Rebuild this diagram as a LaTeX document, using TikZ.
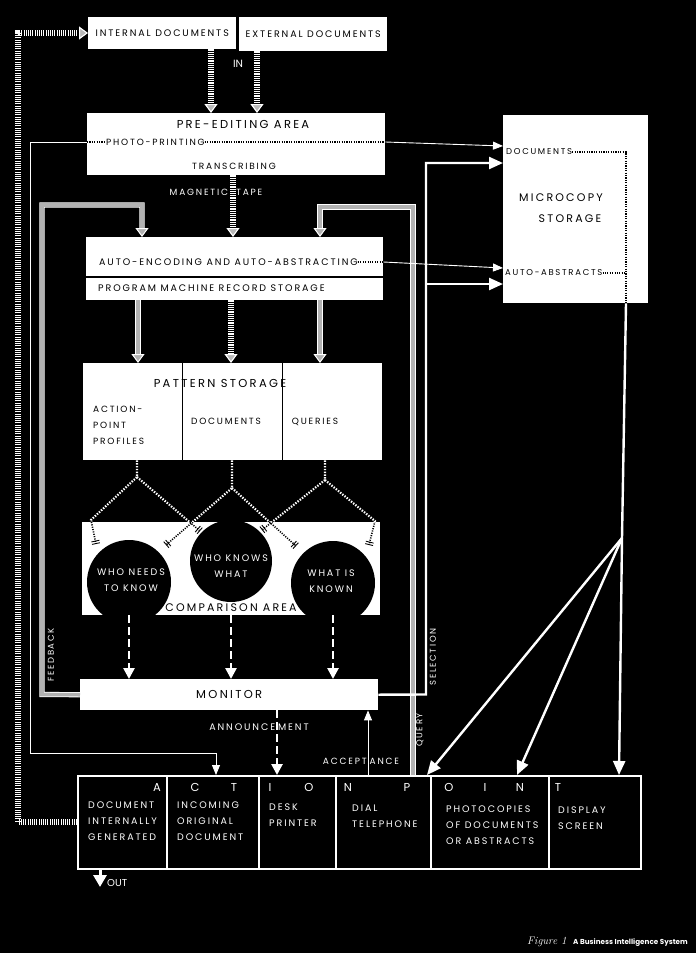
\documentclass[tikz,border=0pt]{standalone}
\usepackage{fontspec}
\usetikzlibrary{arrows.meta,calc}
\newfontfamily\fut[LetterSpace=20]{Poppins}
\newfontfamily\futn{Poppins}
\begin{document}
\begin{tikzpicture}[x=1pt,y=-1pt,
  wbox/.style={fill=white, draw=none, inner sep=0pt, anchor=north west},
  sms/.style={font=\fut\fontsize{8.5}{16}\selectfont, inner sep=0pt},
  sm/.style={font=\fut\fontsize{9}{16}\selectfont, inner sep=0pt},
  sml/.style={font=\fut\fontsize{9.5}{16}\selectfont, inner sep=0pt},
  md/.style={font=\fut\fontsize{11}{16}\selectfont, inner sep=0pt},
  bg/.style={font=\fut\fontsize{11.5}{20}\selectfont, inner sep=0pt},
  hdr/.style={font=\futn\fontsize{11.5}{14}\selectfont, inner sep=0pt, text=white, anchor=base},
  wt/.style={text=white},
  ladder/.style={draw=white, line width=6pt, dash pattern=on 1.1pt off 1.1pt},
  ladtip/.style={-{Triangle[fill=gray!55, width=13pt, length=9pt, line width=1.1pt]}},
  greyline/.style={draw=white, double=gray!60, double distance=3.6pt, line width=0.8pt},
  greytip/.style={draw=white, line width=1pt, -{Triangle[fill=gray!60, width=13pt, length=9pt]}},
  thinarr/.style={draw=white, line width=0.9pt, -{Triangle[width=8pt, length=10pt]}},
  thick/.style={draw=white, line width=2.4pt},
  thickarr/.style={draw=white, line width=2.4pt, -{Triangle[width=12pt, length=14pt]}},
  dasharr/.style={draw=white, line width=2.6pt, dash pattern=on 8pt off 4pt, -{Triangle[width=11pt, length=11pt]}},
  dotb/.style={draw=black, line width=1.6pt, dash pattern=on 1.1pt off 1.3pt},
  dotw/.style={draw=white, line width=2.2pt, dash pattern=on 1.4pt off 1.4pt},
  ticktip/.style={-{Bar[width=8pt,line width=0.9pt,sep=1.6pt]Bar[width=8pt,line width=0.9pt]}},
]
\fill[black] (0,0) rectangle (696,953);
\useasboundingbox (0,0) rectangle (696,953);

% ---------- boxes ----------
\node[wbox, minimum width=148pt, minimum height=32pt, sml] (intd) at (88,17) {INTERNAL DOCUMENTS};
\node[wbox, minimum width=148pt, minimum height=34pt, sml] (extd) at (239,17) {EXTERNAL DOCUMENTS};
\node[wbox, minimum width=298pt, minimum height=62pt] (pre) at (87,113) {};
\node[wbox, minimum width=297pt, minimum height=39pt] (auto1) at (86,237) {};
\node[wbox, minimum width=297pt, minimum height=22pt] (auto2) at (86,278) {};
\node[wbox, minimum width=299pt, minimum height=97pt] (pat) at (83,363) {};
\node[wbox, minimum width=298pt, minimum height=93pt] (comp) at (82,522) {};
\node[wbox, minimum width=298pt, minimum height=31pt, bg] (mon) at (80,679) {MONITOR};
\node[wbox, minimum width=145pt, minimum height=188pt] (micro) at (503,115) {};
\node[wbox, fill=black, draw=white, line width=1.5pt, minimum width=563pt, minimum height=93pt] (act) at (77,775) {};

% ---------- texts in boxes ----------
\node[bg] (preT) at (243,124) {PRE-EDITING AREA};
\node[sm, anchor=west] (photo) at (106,142) {PHOTO-PRINTING};
\node[sm] (trans) at (234,166) {TRANSCRIBING};
\node[sml, anchor=west] (autoT) at (99,262) {AUTO-ENCODING AND AUTO-ABSTRACTING};
\node[sml, anchor=west] (progT) at (98,288) {PROGRAM MACHINE RECORD STORAGE};
\node[bg] (patT) at (220,383) {PATTERN STORAGE};
\draw[black, line width=1pt] (pat.north -| 182,0) -- (pat.south -| 182,0);
\draw[black, line width=1pt] (pat.north -| 282,0) -- (pat.south -| 282,0);
\node[sm, anchor=base west, align=left] (apT) at (93,444) {ACTION-\\POINT\\PROFILES};
\node[sm] (docT) at (226,421) {DOCUMENTS};
\node[sm] (qT) at (315,422) {QUERIES};
\node[sms, anchor=west] (mDoc) at (506,152) {DOCUMENTS};
\node[md] (mcT) at (561,198) {MICROCOPY};
\node[md] (stT) at (570,219) {STORAGE};
\node[sms, anchor=west] (mAbs) at (505,273) {AUTO-ABSTRACTS};

% comparison circles
\begin{scope}
\clip (comp.north west) rectangle (comp.south east);
\node[circle, fill=black, minimum size=84pt, inner sep=0pt] (c1) at (129,582) {};
\node[circle, fill=black, minimum size=82pt, inner sep=0pt] (c2) at (231,561) {};
\node[circle, fill=black, minimum size=84pt, inner sep=0pt] (c3) at (333,583) {};
\end{scope}
\node[sml, wt, align=center] (c1T) at (131,580) {WHO NEEDS\\TO KNOW};
\node[sml, wt, align=center] (c2T) at (231,566) {WHO KNOWS\\WHAT};
\node[sml, wt, align=center] (c3T) at (331,581) {WHAT IS\\KNOWN};
\node[font=\fut\fontsize{11}{20}\selectfont, inner sep=0pt] (compT) at (231,608) {COMPARISON AREA};

% ---------- labels on black ----------
\node[font=\futn\fontsize{10.5}{12}\selectfont, text=white, inner sep=0pt] (inT) at (238,64) {IN};
\node[sm, wt] (magT) at (216,192) {MAGNETIC\hspace{8pt}TAPE};
\node[sms, wt, rotate=90] (fbT) at (51,655) {FEEDBACK};
\node[sms, wt, rotate=90] (selT) at (433,657) {SELECTION};
\node[sms, wt, rotate=90] (qyT) at (420,730) {QUERY};
\node[sml, wt] (annT) at (259,727) {ANNOUNCE\hspace{3pt}MENT};
\node[sm, wt] (accT) at (361,761) {ACCEPT\hspace{3pt}ANCE};

% action point
\foreach \x in {167,259,336,431,549}
  \draw[white, line width=1.2pt] (act.north -| \x,0) -- (act.south -| \x,0);
\node[hdr] (hA) at (157,791) {A};
\node[hdr] (hC) at (195,791) {C};
\node[hdr] (hT) at (234,791) {T};
\node[hdr] (hI) at (270,791) {I};
\node[hdr] (hO) at (309,791) {O};
\node[hdr] (hN) at (348,791) {N};
\node[hdr] (hP) at (407,791) {P};
\node[hdr] (hO2) at (449,791) {O};
\node[hdr] (hI2) at (485,791) {I};
\node[hdr] (hN2) at (520,791) {N};
\node[hdr] (hT2) at (558,791) {T};
\node[sml, wt, anchor=base west, align=left] (t1) at (88,840) {DOCUMENT\\INTERNALLY\\GENERATED};
\node[sml, wt, anchor=base west, align=left] (t2) at (177,840) {INCOMING\\ORIGINAL\\DOCUMENT};
\node[sml, wt, anchor=base west, align=left] (t3) at (269,826) {DESK\\PRINTER};
\node[sml, wt, anchor=base west, align=left] (t4) at (352,827) {DIAL\\TELEPHONE};
\node[sml, wt, anchor=base west, align=left] (t5) at (446,844) {PHOTOCOPIES\\OF DOCUMENTS\\OR ABSTRACTS};
\node[sml, wt, anchor=base west, align=left] (t6) at (558,829) {DISPLAY\\SCREEN};
\node[font=\futn\fontsize{10}{12}\selectfont, text=white, anchor=base west, inner sep=0pt] (outT) at (107,886) {OUT};

% caption
\node[anchor=base west, inner sep=0pt, font=\itshape\fontsize{11}{12}\selectfont, text=white] (figT) at (527,944) {Figure 1};
\node[anchor=base east, inner sep=0pt, font=\futn\bfseries\fontsize{7.2}{12}\selectfont, text=white] (capT) at (688,944) {A Business Intelligence System};

% ---------- dotted lines ----------
\draw[dotb] (pre.west |- photo.west) -- (photo.west);
\draw[dotb] (photo.east) -- (pre.east |- photo.east);
\draw[dotb] (autoT.east) -- (auto1.east |- autoT.east);
\draw[dotb] (mDoc.east) -- (626,152) -- (micro.south -| 626,0);
\draw[dotb] (mAbs.east) -- (626,273);

% comparison connectors
\coordinate (pL) at (137,477);
\coordinate (pM) at (232,488);
\coordinate (pR) at (325,480);
\draw[dotw, ticktip] (pat.south -| pL) -- (pL) -- (91,520) -- (96,544);
\draw[dotw, ticktip] (pL) -- (200,531);
\draw[dotw, ticktip] (pat.south -| pM) -- (pM) -- (166,545);
\draw[dotw, ticktip] (pM) -- (296,546);
\draw[dotw, ticktip] (pat.south -| pR) -- (pR) -- (262,530);
\draw[dotw, ticktip] (pR) -- (375,521) -- (369,545);
\begin{scope}
\clip (comp.north west) rectangle (comp.south east);
\draw[dotb, ticktip] (pat.south -| pL) -- (pL) -- (91,520) -- (96,544);
\draw[dotb, ticktip] (pL) -- (200,531);
\draw[dotb, ticktip] (pat.south -| pM) -- (pM) -- (166,545);
\draw[dotb, ticktip] (pM) -- (296,546);
\draw[dotb, ticktip] (pat.south -| pR) -- (pR) -- (262,530);
\draw[dotb, ticktip] (pR) -- (375,521) -- (369,545);
\end{scope}

% ---------- ladder (striped) arrows ----------
\draw[ladder, ladtip] (intd.south -| 211,0) -- (pre.north -| 211,0);
\draw[ladder, ladtip] (extd.south -| 257,0) -- (pre.north -| 257,0);
\draw[ladder, ladtip] (pre.south -| 233,0) -- (auto1.north -| 233,0);
\draw[ladder, ladtip] (auto2.south -| 231,0) -- (pat.north -| 231,0);
\draw[ladder, ladtip] (act.west |- 0,822) -- (18,822) -- (18,33) -- (intd.west |- 0,33);

% ---------- grey hatched loops ----------
\draw[greyline] (mon.west) -- (42,694.5) -- (42,205) -- (142,205) -- (142,228);
\draw[greytip] (142,228) -- (auto1.north -| 142,0);
\draw[greyline] (act.north -| 413,0) -- (413,207) -- (320,207) -- (320,228);
\draw[greytip] (320,228) -- (auto1.north -| 320,0);
\draw[greyline] (auto2.south -| 138,0) -- (138,354);
\draw[greytip] (138,354) -- (pat.north -| 138,0);
\draw[greyline] (auto2.south -| 320,0) -- (320,354);
\draw[greytip] (320,354) -- (pat.north -| 320,0);

% ---------- thin lines ----------
\draw[thinarr] (pre.west |- photo.west) -- (30,142) -- (30,753) -- (216,753) -- (act.north -| 216,0);
\draw[thinarr] (pre.east |- photo.east) -- (micro.west |- 0,146);
\draw[thinarr] (auto1.east |- autoT.east) -- (micro.west |- 0,268);
\draw[thinarr] (act.north -| 368,0) -- (mon.south -| 368,0);

% ---------- thick lines ----------
\draw[thickarr] (mon.east) -- (426,694.5) -- (426,163) -- (micro.west |- 0,163);
\draw[thickarr] (426,284) -- (micro.west |- 0,284);
\coordinate (fan) at (622,538);
\draw[thick] (micro.south -| 626,0) -- (fan);
\draw[thickarr] (fan) -- (act.north -| 619,0);
\draw[thickarr] (fan) -- (act.north -| 427,0);
\draw[thickarr] (fan) -- (act.north -| 517,0);

% ---------- dashed arrows ----------
\draw[dasharr] (c1 |- comp.south) -- (c1 |- mon.north);
\draw[dasharr] (c2 |- comp.south) -- (c2 |- mon.north);
\draw[dasharr] (c3 |- comp.south) -- (c3 |- mon.north);
\draw[dasharr] (mon.south -| 277,0) -- (act.north -| 277,0);

% OUT
\draw[white, line width=3pt, -{Triangle[width=13pt,length=12pt]}] (act.south -| 100,0) -- (100,887);
\end{tikzpicture}
\end{document}
